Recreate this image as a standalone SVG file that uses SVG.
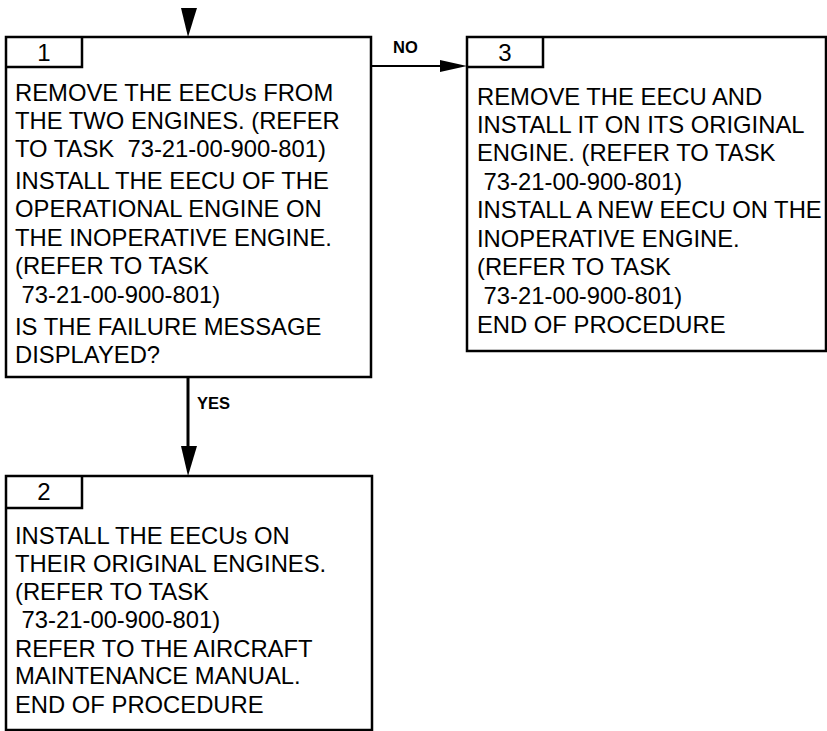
<svg xmlns="http://www.w3.org/2000/svg" width="827" height="731" viewBox="0 0 827 731">
<style>
.box{fill:#fff;stroke:#000;stroke-width:2.5}
.tab{fill:none;stroke:#000;stroke-width:2.5}
.t{font-family:"Liberation Sans",Arial,sans-serif;font-size:23.8px;fill:#000}
.n{font-family:"Liberation Sans",Arial,sans-serif;font-size:24px;fill:#000;text-anchor:middle}
.lbl{font-family:"Liberation Sans",Arial,sans-serif;font-size:16.5px;font-weight:bold;fill:#000}
.ln{stroke:#000;fill:none}
</style>
<rect width="827" height="731" fill="#fff"/>
<g id="connectors">
<polygon points="181,8 197,8 188,37" fill="#000"/>
<line class="ln" x1="371" y1="66" x2="442" y2="66" stroke-width="2"/>
<polygon points="440,60 440,72 467,66" fill="#000"/>
<text class="lbl" x="393" y="53">NO</text>
<line class="ln" x1="188" y1="377" x2="188" y2="448" stroke-width="3"/>
<polygon points="181,446 197,446 188,476" fill="#000"/>
<text class="lbl" x="197" y="409">YES</text>
</g>
<g id="node1">
<rect class="box" x="6" y="37" width="365" height="340"/>
<path class="tab" d="M6,67 H82 V37"/>
<text class="n" x="44" y="61">1</text>
<text class="t" x="15" y="101">REMOVE THE EECUs FROM</text>
<text class="t" x="15" y="129">THE TWO ENGINES. (REFER</text>
<text class="t" x="15" y="157" xml:space="preserve">TO TASK  73-21-00-900-801)</text>
<text class="t" x="15" y="189">INSTALL THE EECU OF THE</text>
<text class="t" x="15" y="217">OPERATIONAL ENGINE ON</text>
<text class="t" x="15" y="246">THE INOPERATIVE ENGINE.</text>
<text class="t" x="15" y="274">(REFER TO TASK</text>
<text class="t" x="15" y="303" xml:space="preserve"> 73-21-00-900-801)</text>
<text class="t" x="15" y="335">IS THE FAILURE MESSAGE</text>
<text class="t" x="15" y="363">DISPLAYED?</text>
</g>
<g id="node3">
<rect class="box" x="467" y="37" width="359" height="314"/>
<path class="tab" d="M467,67 H543 V37"/>
<text class="n" x="505" y="61">3</text>
<text class="t" x="477" y="105">REMOVE THE EECU AND</text>
<text class="t" x="477" y="133">INSTALL IT ON ITS ORIGINAL</text>
<text class="t" x="477" y="161">ENGINE. (REFER TO TASK</text>
<text class="t" x="477" y="190" xml:space="preserve"> 73-21-00-900-801)</text>
<text class="t" x="477" y="218">INSTALL A NEW EECU ON THE</text>
<text class="t" x="477" y="247">INOPERATIVE ENGINE.</text>
<text class="t" x="477" y="275">(REFER TO TASK</text>
<text class="t" x="477" y="304" xml:space="preserve"> 73-21-00-900-801)</text>
<text class="t" x="477" y="333">END OF PROCEDURE</text>
</g>
<g id="node2">
<rect class="box" x="6" y="476" width="366" height="254"/>
<path class="tab" d="M6,508 H82 V476"/>
<text class="n" x="44" y="500">2</text>
<text class="t" x="15" y="544">INSTALL THE EECUs ON</text>
<text class="t" x="15" y="572">THEIR ORIGINAL ENGINES.</text>
<text class="t" x="15" y="600">(REFER TO TASK</text>
<text class="t" x="15" y="628" xml:space="preserve"> 73-21-00-900-801)</text>
<text class="t" x="15" y="657">REFER TO THE AIRCRAFT</text>
<text class="t" x="15" y="684">MAINTENANCE MANUAL.</text>
<text class="t" x="15" y="713">END OF PROCEDURE</text>
</g>
</svg>
